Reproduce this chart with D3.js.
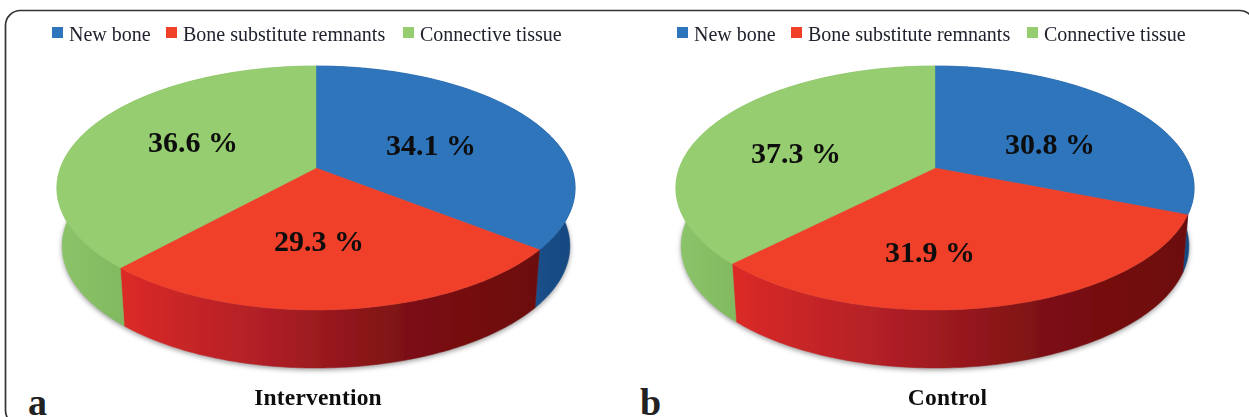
<!DOCTYPE html>
<html><head><meta charset="utf-8">
<script src="https://cdnjs.cloudflare.com/ajax/libs/d3/7.8.5/d3.min.js"></script>
<style>html,body{margin:0;padding:0;background:#fff}svg{display:block}text{font-family:"Liberation Serif",serif}</style>
</head><body><svg id="c" width="1249" height="417"></svg>
<script>
const categories = ["New bone", "Bone substitute remnants", "Connective tissue"];
const interventionValues = [34.1, 29.3, 36.6];
const controlValues = [30.8, 31.9, 37.3];
const panelNames = ["Intervention", "Control"];
const panelLetters = ["a", "b"];
const topColors = ["#2e74bc", "#f0412b", "#96cd70"];
const sideStops = [
  [[0, "#1c5590"], [1, "#17477f"]],
  [[0, "#dc2a28"], [0.35, "#ae1f26"], [0.68, "#7c1113"], [1, "#6c0d0e"]],
  [[0, "#8cc46a"], [1, "#80b95f"]]
];

const panels = [
  {values: interventionValues, name: panelNames[0], letter: panelLetters[0], cx: 316, warp: 6,
   legendX: [52, 166, 403], letterX: 28, labels: [[431,145],[319,241],[193,142]], titleX: 318},
  {values: controlValues, name: panelNames[1], letter: panelLetters[1], cx: 935, warp: 1.2,
   legendX: [677, 791, 1027], letterX: 640, labels: [[1050,144],[930,252],[796,153]], titleX: 947.5}
];

const svg = d3.select("#c");
const defs = svg.append("defs");
defs.append("filter").attr("id","soft").attr("x","-5%").attr("y","-5%").attr("width","110%").attr("height","110%")
  .append("feGaussianBlur").attr("stdDeviation",0.6);
defs.append("filter").attr("id","shadow").attr("x","-10%").attr("y","-10%").attr("width","120%").attr("height","120%")
  .append("feGaussianBlur").attr("stdDeviation",2.5);
defs.append("filter").attr("id","txt").append("feGaussianBlur").attr("stdDeviation",0.4);

// frame
svg.append("rect").attr("x",5.5).attr("y",10.5).attr("width",1249).attr("height",415).attr("rx",15)
  .attr("fill","none").attr("stroke","#333").attr("stroke-width",1.7);

// Perspective projection of a flat disc
const k = 0.164, yApex = 168, B = 118.7, A = 255.6, depth = 58, shrink = 0.98;
function project(cx, warp, a) {
  const t = a - (warp * Math.PI / 180) * Math.sin(2 * a);
  const w = 1 + k * Math.cos(t);
  return [cx + A * Math.sin(t) / w, yApex - B * Math.cos(t) / w];
}
const lower = (cx, p) => [cx + (p[0] - cx) * shrink, p[1] + depth];
const line = d3.line();

panels.forEach((p, pi) => {
  const g = svg.append("g");
  const arcs = d3.pie().sort(null)(p.values);
  const sample = d => d3.range(0, 121).map(i => d.startAngle + (d.endAngle - d.startAngle) * i / 120);
  const pts = d => sample(d).map(a => project(p.cx, p.warp, a));

  // soft shadow under the disc
  const all = d3.range(0, 361).map(i => lower(p.cx, project(p.cx, 0, i * Math.PI / 180)));
  g.append("path").attr("d", line(all) + "Z").attr("transform","translate(0,2)")
    .attr("fill","#777").attr("opacity",0.75).attr("filter","url(#shadow)");

  const marks = g.append("g").attr("filter","url(#soft)");
  arcs.forEach((d, i) => {
    const id = `side${pi}-${i}`;
    const top = pts(d), bot = top.map(q => lower(p.cx, q));
    const xs = top.concat(bot).filter(q => q[1] > yApex).map(q => q[0]);
    const grad = defs.append("linearGradient").attr("id", id).attr("gradientUnits","userSpaceOnUse")
      .attr("x1", d3.min(xs)).attr("x2", d3.max(xs)).attr("y1",0).attr("y2",0);
    sideStops[i].forEach(s => grad.append("stop").attr("offset", s[0]).attr("stop-color", s[1]));
    marks.append("path").attr("d", line(top.concat(bot.reverse())) + "Z")
      .attr("fill", `url(#${id})`).attr("stroke", `url(#${id})`).attr("stroke-width",0.5);
  });
  arcs.forEach((d, i) => {
    marks.append("path").attr("d", line([[p.cx, yApex]].concat(pts(d))) + "Z")
      .attr("fill", topColors[i]).attr("stroke", topColors[i]).attr("stroke-width",0.4);
  });

  // value labels
  p.values.forEach((v, i) => {
    g.append("text").attr("x", p.labels[i][0]).attr("y", p.labels[i][1] + 9.5).attr("text-anchor","middle")
      .attr("font-size",30).attr("font-weight",700).attr("fill","#0a0a0a").attr("filter","url(#txt)")
      .text(`${v.toFixed(1)} %`);
  });

  // legend
  const lg = g.append("g").attr("filter","url(#txt)");
  categories.forEach((c, i) => {
    lg.append("rect").attr("x", p.legendX[i]).attr("y", 27).attr("width",11).attr("height",11).attr("fill", topColors[i]);
    lg.append("text").attr("x", p.legendX[i] + 17).attr("y", 41).attr("font-size",20).attr("fill","#20242e").text(c);
  });

  g.append("text").attr("x", p.titleX).attr("y", 404.5).attr("text-anchor","middle")
    .attr("font-size",23.5).attr("letter-spacing",0.2).attr("font-weight",700).attr("fill","#111").attr("filter","url(#txt)").text(p.name);
  g.append("text").attr("x", p.letterX).attr("y", 415).attr("font-size",38).attr("font-weight",700).attr("fill","#222").text(p.letter);
});
</script></body></html>
